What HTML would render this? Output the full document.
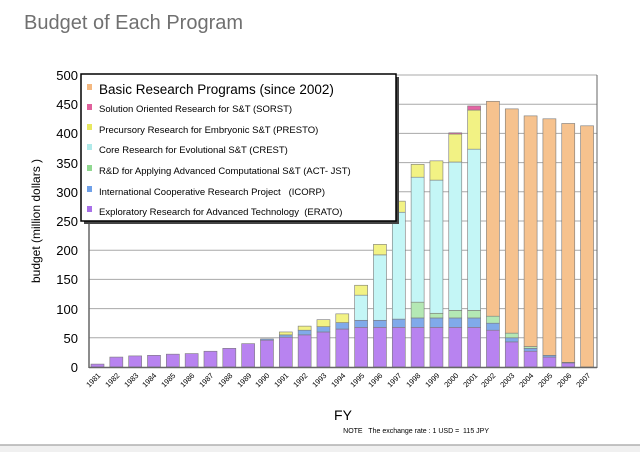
<!DOCTYPE html>
<html><head><meta charset="utf-8"><style>
body{margin:0;background:#fff;width:640px;height:452px;overflow:hidden;font-family:"Liberation Sans",Arial,sans-serif}
</style></head><body>
<svg id="s" width="640" height="452" xmlns="http://www.w3.org/2000/svg" font-family="Liberation Sans, Arial, sans-serif">
<rect x="0" y="445" width="640" height="7" fill="#f0f0f0"/>
<line x1="0" y1="445" x2="640" y2="445" stroke="#b0b0b0" stroke-width="1.5"/>
<text x="24" y="29" font-size="20" fill="#707070">Budget of Each Program</text>
<g id="grid" stroke="#a8a8a8" stroke-width="1"></g>
<g id="bars"></g>
<line x1="89" y1="75" x2="89" y2="368" stroke="#666" stroke-width="1.5"/>
<line x1="89" y1="367.5" x2="597" y2="367.5" stroke="#666" stroke-width="1.5"/>
<line x1="597" y1="75" x2="597" y2="368" stroke="#666" stroke-width="1"/>
<g font-size="13" text-anchor="end" fill="#000">
<text x="78" y="372">0</text><text x="78" y="343">50</text><text x="78" y="314">100</text><text x="78" y="284">150</text><text x="78" y="255">200</text><text x="78" y="226">250</text><text x="78" y="197">300</text><text x="78" y="168">350</text><text x="78" y="138">400</text><text x="78" y="109">450</text><text x="78" y="80">500</text>
</g>
<text transform="translate(40,221) rotate(-90)" font-size="12" text-anchor="middle">budget (million dollars )</text>
<g id="yr" font-size="7.5" text-anchor="end">
<text transform="translate(101,376) rotate(-45)">1981</text>
<text transform="translate(120,376) rotate(-45)">1982</text>
<text transform="translate(139,376) rotate(-45)">1983</text>
<text transform="translate(157,376) rotate(-45)">1984</text>
<text transform="translate(176,376) rotate(-45)">1985</text>
<text transform="translate(195,376) rotate(-45)">1986</text>
<text transform="translate(214,376) rotate(-45)">1987</text>
<text transform="translate(233,376) rotate(-45)">1988</text>
<text transform="translate(252,376) rotate(-45)">1989</text>
<text transform="translate(270,376) rotate(-45)">1990</text>
<text transform="translate(289,376) rotate(-45)">1991</text>
<text transform="translate(308,376) rotate(-45)">1992</text>
<text transform="translate(327,376) rotate(-45)">1993</text>
<text transform="translate(346,376) rotate(-45)">1994</text>
<text transform="translate(365,376) rotate(-45)">1995</text>
<text transform="translate(383,376) rotate(-45)">1996</text>
<text transform="translate(402,376) rotate(-45)">1997</text>
<text transform="translate(421,376) rotate(-45)">1998</text>
<text transform="translate(440,376) rotate(-45)">1999</text>
<text transform="translate(459,376) rotate(-45)">2000</text>
<text transform="translate(478,376) rotate(-45)">2001</text>
<text transform="translate(496,376) rotate(-45)">2002</text>
<text transform="translate(515,376) rotate(-45)">2003</text>
<text transform="translate(534,376) rotate(-45)">2004</text>
<text transform="translate(553,376) rotate(-45)">2005</text>
<text transform="translate(572,376) rotate(-45)">2006</text>
<text transform="translate(591,376) rotate(-45)">2007</text>
</g>
<text x="343" y="420" font-size="14" text-anchor="middle">FY</text>
<text x="489" y="433" font-size="7" text-anchor="end">NOTE&#160;&#160; The exchange rate : 1 USD =&#160; 115 JPY</text>
<rect x="84" y="77" width="315" height="147" fill="#444"/>
<rect x="81" y="74" width="315" height="147" fill="#fff" stroke="#000" stroke-width="1.5"/>
<g font-size="9.5">
<rect x="87" y="84" width="5" height="6" fill="#f4b880"/><text x="99" y="94" font-size="13.5">Basic Research Programs (since 2002)</text>
<rect x="87" y="104" width="5" height="6" fill="#e0609c"/><text x="99" y="112">Solution Oriented Research for S&amp;T (SORST)</text>
<rect x="87" y="124" width="5" height="6" fill="#e8e860"/><text x="99" y="133">Precursory Research for Embryonic S&amp;T (PRESTO)</text>
<rect x="87" y="144" width="5" height="6" fill="#b0eaea"/><text x="99" y="153">Core Research for Evolutional S&amp;T (CREST)</text>
<rect x="87" y="165" width="5" height="6" fill="#90d890"/><text x="99" y="174">R&amp;D for Applying Advanced Computational S&amp;T (ACT- JST)</text>
<rect x="87" y="186" width="5" height="6" fill="#6fa0e8"/><text x="99" y="195">International Cooperative Research Project&#160;&#160; (ICORP)</text>
<rect x="87" y="206" width="5" height="6" fill="#a870e8"/><text x="99" y="215">Exploratory Research for Advanced Technology&#160; (ERATO)</text>
</g>
</svg>
<script>
var ns="http://www.w3.org/2000/svg",g=document.getElementById("grid"),b=document.getElementById("bars");
for(var v=50;v<=500;v+=50){var y=367-v*0.584;var l=document.createElementNS(ns,"line");l.setAttribute("x1",89);l.setAttribute("x2",597);l.setAttribute("y1",y);l.setAttribute("y2",y);g.appendChild(l);}
var col=["#b883f0","#80aaea","#b4e8b4","#c4f6f6","#f2f284","#e464a4","#f6c28e"];
var d=[[5],[17],[19],[20],[22],[23],[27],[32],[40],[46,2],[51,4,0,0,5],[55,8,0,0,7],[60,9,0,0,12],[65,11,0,0,15],[68,12,0,43,17],
[68,12,0,112,18],[68,14,0,183,19],[68,16,27,214,22],[68,16,8,228,33],[68,16,13,254,48,2],[68,16,13,276,67,7],
[63,12,12,0,0,0,368],[43,7,8,0,0,0,384],[27,5,3,0,0,0,395],[17,3,0,0,0,0,405],[7,1,0,0,0,0,409],[0,0,0,0,0,0,413]];
for(var i=0;i<d.length;i++){var x=91+i*18.83,c=0;for(var k=0;k<d[i].length;k++){var h=d[i][k];if(!h)continue;var r=document.createElementNS(ns,"rect");r.setAttribute("x",x);r.setAttribute("width",13);r.setAttribute("y",367-(c+h)*0.584);r.setAttribute("height",h*0.584);r.setAttribute("fill",col[k]);r.setAttribute("stroke","#7a7a7a");r.setAttribute("stroke-width","0.6");b.appendChild(r);c+=h;}}
</script>
</body></html>
